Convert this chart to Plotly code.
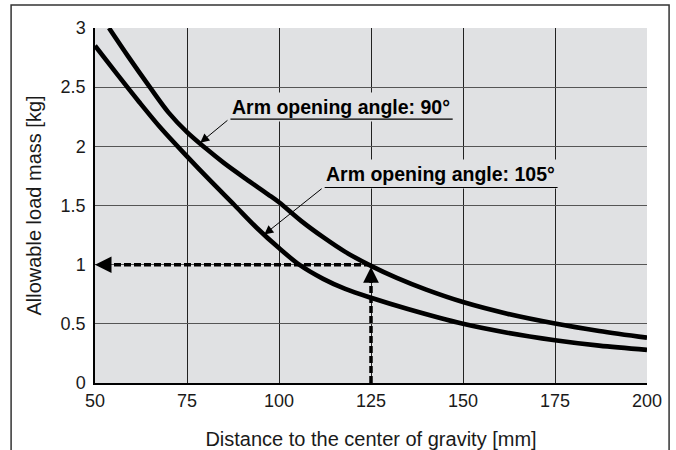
import plotly.graph_objects as go

# ---- data ----
x_90 = [53.8, 59, 64.9, 70, 75, 80, 85, 91, 97, 100, 106, 112, 118, 125, 132, 140, 150, 162, 175, 187, 200]
y_90 = [3.0, 2.76, 2.5, 2.285, 2.12, 1.985, 1.86, 1.725, 1.595, 1.528, 1.37, 1.232, 1.108, 0.99, 0.888, 0.789, 0.684, 0.586, 0.503, 0.44, 0.383]

x_105 = [50, 56, 62, 68, 75, 81, 88, 94, 100, 105.5, 112, 118, 125, 135, 150, 162, 175, 187, 200]
y_105 = [2.85, 2.61, 2.375, 2.15, 1.915, 1.72, 1.5, 1.31, 1.14, 1.0, 0.88, 0.795, 0.72, 0.625, 0.50, 0.425, 0.362, 0.316, 0.28]

x_ticks = [50, 75, 100, 125, 150, 175, 200]
y_ticks = [0, 0.5, 1, 1.5, 2, 2.5, 3]
y_tick_text = ["0", "0.5", "1", "1.5", "2", "2.5", "3"]

example_x = 125      # distance read in the example [mm]
example_y = 1.0      # resulting allowable load [kg]

label_90 = "Arm opening angle: 90°"
label_105 = "Arm opening angle: 105°"
x_title = "Distance to the center of gravity [mm]"
y_title = "Allowable load mass [kg]"

FONT = "Liberation Sans, Arial, Helvetica, sans-serif"
BG = "#e0e1e3"

fig = go.Figure()
fig.add_trace(go.Scatter(x=x_90, y=y_90, mode="lines", name=label_90,
                         line=dict(color="black", width=4.6, shape="spline", smoothing=0.9),
                         showlegend=False, hoverinfo="skip", cliponaxis=True))
fig.add_trace(go.Scatter(x=x_105, y=y_105, mode="lines", name=label_105,
                         line=dict(color="black", width=4.6, shape="spline", smoothing=0.9),
                         showlegend=False, hoverinfo="skip", cliponaxis=True))

shapes = []
# outer frame
shapes.append(dict(type="rect", xref="paper", yref="paper", x0=-0.152, x1=1.040, y0=-0.25, y1=1.065,
                   line=dict(color="#333", width=1.5), fillcolor="rgba(0,0,0,0)", layer="above"))
# dashed guide lines
shapes.append(dict(type="line", xref="x", yref="y", x0=example_x, x1=x_ticks[0] + 4, y0=example_y, y1=example_y,
                   line=dict(color="black", width=3.5, dash="7px,3px")))
shapes.append(dict(type="line", xref="x", yref="y", x0=example_x, x1=example_x, y0=0, y1=example_y - 0.12,
                   line=dict(color="black", width=3.5, dash="7px,3px")))

annotations = []
# label texts (with background that interrupts the grid)
annotations.append(dict(x=86.2, y=2.33, xref="x", yref="y", text="<b>" + label_90 + "</b>",
                        showarrow=False, xanchor="left", yanchor="middle", bgcolor=BG, borderpad=3,
                        font=dict(family=FONT, size=19.5, color="black")))
annotations.append(dict(x=111.8, y=1.77, xref="x", yref="y", text="<b>" + label_105 + "</b>",
                        showarrow=False, xanchor="left", yanchor="middle", bgcolor=BG, borderpad=3,
                        font=dict(family=FONT, size=19.5, color="black")))
# underlines (drawn after the text boxes so they stay visible)
annotations.append(dict(x=147.2, y=2.23, xref="x", yref="y", ax=86.4, ay=2.23, axref="x", ayref="y",
                        text="", showarrow=True, arrowhead=0, arrowwidth=1.2, arrowcolor="black"))
annotations.append(dict(x=175.7, y=1.652, xref="x", yref="y", ax=112.0, ay=1.652, axref="x", ayref="y",
                        text="", showarrow=True, arrowhead=0, arrowwidth=1.2, arrowcolor="black"))
# leader arrows
annotations.append(dict(x=78.6, y=2.03, xref="x", yref="y", ax=86.4, ay=2.23, axref="x", ayref="y",
                        text="", showarrow=True, arrowhead=2, arrowsize=1.8, arrowwidth=1, arrowcolor="black"))
annotations.append(dict(x=96.0, y=1.255, xref="x", yref="y", ax=112.0, ay=1.652, axref="x", ayref="y",
                        text="", showarrow=True, arrowhead=2, arrowsize=1.8, arrowwidth=1, arrowcolor="black"))
# arrow heads of the dashed guides
annotations.append(dict(x=x_ticks[0], y=example_y, xref="x", yref="y", ax=14, ay=0,
                        text="", showarrow=True, arrowhead=2, arrowsize=1.1, arrowwidth=3, arrowcolor="black"))
annotations.append(dict(x=example_x, y=example_y - 0.02, xref="x", yref="y", ax=0, ay=14,
                        text="", showarrow=True, arrowhead=2, arrowsize=1.05, arrowwidth=3, arrowcolor="black"))

fig.update_layout(
    width=676, height=450,
    margin=dict(l=95, r=29, t=28, b=67, autoexpand=False),
    paper_bgcolor="white", plot_bgcolor=BG,
    font=dict(family=FONT, size=18, color="#1a1a1a"),
    shapes=shapes, annotations=annotations,
    showlegend=False,
)
fig.update_xaxes(range=[50, 200], tickvals=x_ticks, ticks="", ticklabelstandoff=1,
                 tickfont=dict(size=18),
                 showgrid=True, gridcolor="#222", gridwidth=1,
                 showline=True, linecolor="black", linewidth=1.5, zeroline=False,
                 title=dict(text=x_title, standoff=24, font=dict(size=20)), automargin=False)
fig.update_yaxes(range=[0, 3], tickvals=y_ticks, ticktext=y_tick_text, ticks="", ticklabelstandoff=4,
                 tickfont=dict(size=18),
                 showgrid=True, gridcolor="#555", gridwidth=1,
                 showline=True, linecolor="black", linewidth=1.5, zeroline=False,
                 title=dict(text=y_title, standoff=14, font=dict(size=20)), automargin=False)

fig.write_html("out.html", config={"displayModeBar": False},
               post_script="document.body.style.margin='0';document.body.style.overflow='hidden';")
